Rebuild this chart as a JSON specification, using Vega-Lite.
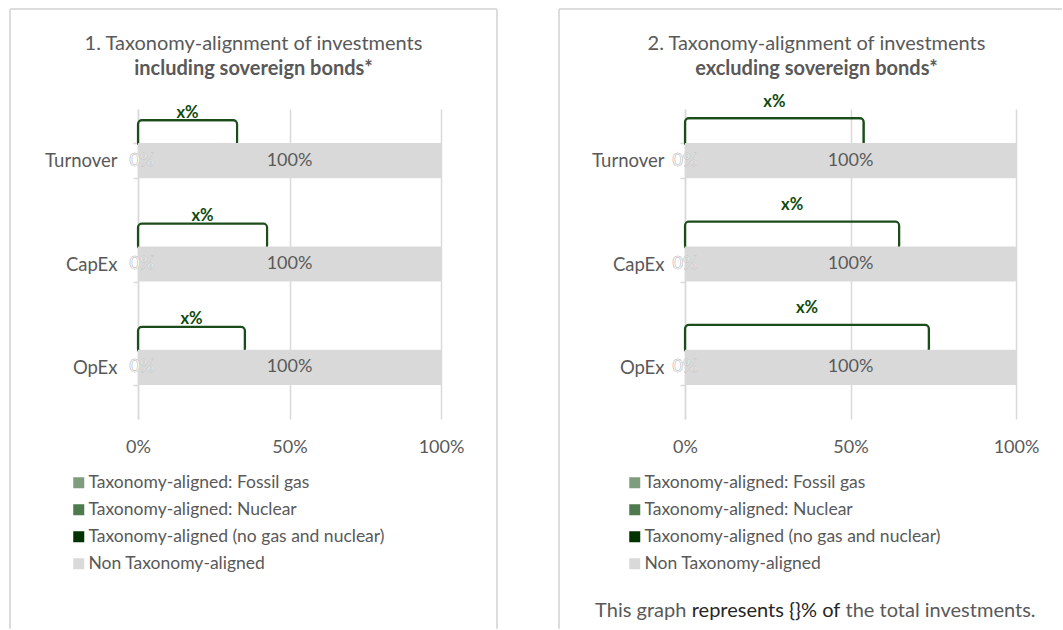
{
  "$schema": "https://vega.github.io/schema/vega-lite/v6.json",
  "padding": {"left": 9, "top": 7, "right": 0, "bottom": 0},
  "spacing": 59,
  "resolve": {"scale": {"color": "independent"}, "legend": {"color": "independent"}},
  "datasets": {
    "bars": [
      {"panel": "incl", "cat": "Turnover", "series": "Taxonomy-aligned: Fossil gas", "value": 0},
      {"panel": "incl", "cat": "Turnover", "series": "Taxonomy-aligned: Nuclear", "value": 0},
      {"panel": "incl", "cat": "Turnover", "series": "Taxonomy-aligned (no gas and nuclear)", "value": 0},
      {"panel": "incl", "cat": "Turnover", "series": "Non Taxonomy-aligned", "value": 1},
      {"panel": "incl", "cat": "CapEx", "series": "Taxonomy-aligned: Fossil gas", "value": 0},
      {"panel": "incl", "cat": "CapEx", "series": "Taxonomy-aligned: Nuclear", "value": 0},
      {"panel": "incl", "cat": "CapEx", "series": "Taxonomy-aligned (no gas and nuclear)", "value": 0},
      {"panel": "incl", "cat": "CapEx", "series": "Non Taxonomy-aligned", "value": 1},
      {"panel": "incl", "cat": "OpEx", "series": "Taxonomy-aligned: Fossil gas", "value": 0},
      {"panel": "incl", "cat": "OpEx", "series": "Taxonomy-aligned: Nuclear", "value": 0},
      {"panel": "incl", "cat": "OpEx", "series": "Taxonomy-aligned (no gas and nuclear)", "value": 0},
      {"panel": "incl", "cat": "OpEx", "series": "Non Taxonomy-aligned", "value": 1},
      {"panel": "excl", "cat": "Turnover", "series": "Taxonomy-aligned: Fossil gas", "value": 0},
      {"panel": "excl", "cat": "Turnover", "series": "Taxonomy-aligned: Nuclear", "value": 0},
      {"panel": "excl", "cat": "Turnover", "series": "Taxonomy-aligned (no gas and nuclear)", "value": 0},
      {"panel": "excl", "cat": "Turnover", "series": "Non Taxonomy-aligned", "value": 1},
      {"panel": "excl", "cat": "CapEx", "series": "Taxonomy-aligned: Fossil gas", "value": 0},
      {"panel": "excl", "cat": "CapEx", "series": "Taxonomy-aligned: Nuclear", "value": 0},
      {"panel": "excl", "cat": "CapEx", "series": "Taxonomy-aligned (no gas and nuclear)", "value": 0},
      {"panel": "excl", "cat": "CapEx", "series": "Non Taxonomy-aligned", "value": 1},
      {"panel": "excl", "cat": "OpEx", "series": "Taxonomy-aligned: Fossil gas", "value": 0},
      {"panel": "excl", "cat": "OpEx", "series": "Taxonomy-aligned: Nuclear", "value": 0},
      {"panel": "excl", "cat": "OpEx", "series": "Taxonomy-aligned (no gas and nuclear)", "value": 0},
      {"panel": "excl", "cat": "OpEx", "series": "Non Taxonomy-aligned", "value": 1}
    ],
    "brackets": [
      {"panel": "incl", "cat": "Turnover", "x": 0.327, "label": "x%"},
      {"panel": "incl", "cat": "CapEx", "x": 0.426, "label": "x%"},
      {"panel": "incl", "cat": "OpEx", "x": 0.353, "label": "x%"},
      {"panel": "excl", "cat": "Turnover", "x": 0.54, "label": "x%"},
      {"panel": "excl", "cat": "CapEx", "x": 0.647, "label": "x%"},
      {"panel": "excl", "cat": "OpEx", "x": 0.737, "label": "x%"}
    ]
  },
  "hconcat": [
    {
      "width": 303,
      "height": 310,
      "title": {"text": "1. Taxonomy-alignment of investments", "subtitle": "including sovereign bonds*", "offset": -71},
      "resolve": {"scale": {"y": "independent"}},
      "layer": [
        {
          "data": {"values": [{}]},
          "layer": [
            {
              "mark": {"type": "rule", "color": "#dcdcdc", "strokeWidth": 2},
              "encoding": {
                "x": {"datum": -0.4224, "type": "quantitative", "scale": {"domain": [0, 1], "nice": false}, "title": null},
                "y": {"datum": 1.3226, "type": "quantitative", "scale": {"domain": [0, 1], "nice": false, "zero": false}, "axis": null},
                "y2": {"datum": -0.677}
              }
            },
            {
              "mark": {"type": "rule", "color": "#dcdcdc", "strokeWidth": 2},
              "encoding": {
                "x": {"datum": -0.4224, "type": "quantitative", "scale": {"domain": [0, 1], "nice": false}, "title": null},
                "x2": {"datum": 1.1848},
                "y": {"datum": 1.3226, "type": "quantitative", "scale": {"domain": [0, 1], "nice": false, "zero": false}, "axis": null}
              }
            },
            {
              "mark": {"type": "rule", "color": "#dcdcdc", "strokeWidth": 2},
              "encoding": {
                "x": {"datum": 1.1848, "type": "quantitative", "scale": {"domain": [0, 1], "nice": false}, "title": null},
                "y": {"datum": 1.3226, "type": "quantitative", "scale": {"domain": [0, 1], "nice": false, "zero": false}, "axis": null},
                "y2": {"datum": -0.677}
              }
            }
          ]
        },
        {
          "layer": [
            {
              "data": {"name": "brackets"},
              "transform": [{"filter": "datum.panel === 'incl'"}],
              "mark": {"type": "bar", "height": 26, "yOffset": -27.5, "fillOpacity": 0, "stroke": "#1a4d1a", "strokeWidth": 2.2, "cornerRadius": 4},
              "encoding": {
                "y": {"field": "cat", "type": "nominal", "sort": ["Turnover", "CapEx", "OpEx"], "scale": {"paddingInner": 0.66, "paddingOuter": 0.33}, "title": null},
                "x": {"field": "x", "type": "quantitative", "scale": {"domain": [0, 1], "nice": false}, "title": null}
              }
            },
            {
              "data": {"name": "bars"},
              "transform": [
                {"filter": "datum.panel === 'incl'"},
                {"stack": "value", "groupby": ["cat"], "sort": [{"field": "series", "order": "descending"}], "as": ["v0", "v1"]}
              ],
              "mark": {"type": "bar"},
              "encoding": {
                "y": {"field": "cat", "type": "nominal", "sort": ["Turnover", "CapEx", "OpEx"], "scale": {"paddingInner": 0.66, "paddingOuter": 0.33}, "title": null},
                "x": {"field": "v0", "type": "quantitative", "scale": {"domain": [0, 1], "nice": false}, "title": null, "axis": {"values": [0, 0.5, 1], "format": ".0%"}},
                "x2": {"field": "v1"},
                "color": {"field": "series", "type": "nominal",
                  "scale": {"domain": ["Taxonomy-aligned: Fossil gas", "Taxonomy-aligned: Nuclear", "Taxonomy-aligned (no gas and nuclear)", "Non Taxonomy-aligned"], "range": ["#7f9c7f", "#4e7a4e", "#013201", "#d9d9d9"]},
                  "legend": {"title": null, "orient": "none", "legendX": -68, "legendY": 365, "direction": "vertical", "symbolType": "square", "symbolSize": 121, "symbolStrokeWidth": 0, "labelFontSize": 17.5, "labelColor": "#595959", "labelLimit": 0, "rowPadding": 8, "labelOffset": 1, "padding": 0}}
              }
            },
            {
              "data": {"name": "bars"},
              "transform": [
                {"filter": "datum.panel === 'incl'"},
                {"stack": "value", "groupby": ["cat"], "sort": [{"field": "series", "order": "descending"}], "as": ["v0", "v1"]},
                {"calculate": "(datum.v0 + datum.v1) / 2", "as": "mid"},
                {"filter": "datum.value === 0"}
              ],
              "mark": {"type": "text", "fontSize": 18, "fill": "white", "stroke": "#c4c4c4", "strokeWidth": 0.5, "align": "center", "baseline": "middle", "dx": 4},
              "encoding": {
                "y": {"field": "cat", "type": "nominal", "sort": ["Turnover", "CapEx", "OpEx"], "scale": {"paddingInner": 0.66, "paddingOuter": 0.33}, "title": null},
                "x": {"field": "mid", "type": "quantitative", "scale": {"domain": [0, 1], "nice": false}, "title": null},
                "text": {"field": "value", "type": "quantitative", "format": ".0%"}
              }
            },
            {
              "data": {"name": "bars"},
              "transform": [
                {"filter": "datum.panel === 'incl'"},
                {"stack": "value", "groupby": ["cat"], "sort": [{"field": "series", "order": "descending"}], "as": ["v0", "v1"]},
                {"calculate": "(datum.v0 + datum.v1) / 2", "as": "mid"},
                {"filter": "datum.value > 0"}
              ],
              "mark": {"type": "text", "fontSize": 18, "color": "#595959", "align": "center", "baseline": "middle"},
              "encoding": {
                "y": {"field": "cat", "type": "nominal", "sort": ["Turnover", "CapEx", "OpEx"], "scale": {"paddingInner": 0.66, "paddingOuter": 0.33}, "title": null},
                "x": {"field": "mid", "type": "quantitative", "scale": {"domain": [0, 1], "nice": false}, "title": null},
                "text": {"field": "value", "type": "quantitative", "format": ".0%"}
              }
            },
            {
              "data": {"name": "brackets"},
              "transform": [{"filter": "datum.panel === 'incl'"}, {"calculate": "datum.x / 2", "as": "mid"}],
              "mark": {"type": "text", "fontSize": 16.5, "fontWeight": "bold", "color": "#0e4a0e", "align": "center", "baseline": "middle", "dy": -48},
              "encoding": {
                "y": {"field": "cat", "type": "nominal", "sort": ["Turnover", "CapEx", "OpEx"], "scale": {"paddingInner": 0.66, "paddingOuter": 0.33}, "title": null},
                "x": {"field": "mid", "type": "quantitative", "scale": {"domain": [0, 1], "nice": false}, "title": null},
                "text": {"field": "label", "type": "nominal"}
              }
            }
          ]
        }
      ]
    },
    {
      "width": 331,
      "height": 310,
      "title": {"text": "2. Taxonomy-alignment of investments", "subtitle": "excluding sovereign bonds*", "offset": -71, "dx": 6},
      "resolve": {"scale": {"y": "independent"}},
      "layer": [
        {
          "data": {"values": [{"a": "This graph", "b": "represents {}% of", "c": "the total investments."}]},
          "layer": [
            {
              "mark": {"type": "rule", "color": "#dcdcdc", "strokeWidth": 2},
              "encoding": {
                "x": {"datum": -0.3807, "type": "quantitative", "scale": {"domain": [0, 1], "nice": false}, "title": null},
                "y": {"datum": 1.3226, "type": "quantitative", "scale": {"domain": [0, 1], "nice": false, "zero": false}, "axis": null},
                "y2": {"datum": -0.677}
              }
            },
            {
              "mark": {"type": "rule", "color": "#dcdcdc", "strokeWidth": 2},
              "encoding": {
                "x": {"datum": -0.3807, "type": "quantitative", "scale": {"domain": [0, 1], "nice": false}, "title": null},
                "x2": {"datum": 1.139},
                "y": {"datum": 1.3226, "type": "quantitative", "scale": {"domain": [0, 1], "nice": false, "zero": false}, "axis": null}
              }
            },
            {
              "mark": {"type": "text", "fontSize": 20, "color": "#595959", "align": "right", "baseline": "middle"},
              "encoding": {
                "x": {"datum": 0.004, "type": "quantitative", "scale": {"domain": [0, 1], "nice": false}, "title": null},
                "y": {"datum": -0.619, "type": "quantitative", "scale": {"domain": [0, 1], "nice": false, "zero": false}, "axis": null},
                "text": {"field": "a", "type": "nominal"}
              }
            },
            {
              "mark": {"type": "text", "fontSize": 20, "color": "#262626", "align": "center", "baseline": "middle"},
              "encoding": {
                "x": {"datum": 0.2447, "type": "quantitative", "scale": {"domain": [0, 1], "nice": false}, "title": null},
                "y": {"datum": -0.619, "type": "quantitative", "scale": {"domain": [0, 1], "nice": false, "zero": false}, "axis": null},
                "text": {"field": "b", "type": "nominal"}
              }
            },
            {
              "mark": {"type": "text", "fontSize": 20, "color": "#595959", "align": "left", "baseline": "middle"},
              "encoding": {
                "x": {"datum": 0.485, "type": "quantitative", "scale": {"domain": [0, 1], "nice": false}, "title": null},
                "y": {"datum": -0.619, "type": "quantitative", "scale": {"domain": [0, 1], "nice": false, "zero": false}, "axis": null},
                "text": {"field": "c", "type": "nominal"}
              }
            }
          ]
        },
        {
          "layer": [
            {
              "data": {"name": "brackets"},
              "transform": [{"filter": "datum.panel === 'excl'"}],
              "mark": {"type": "bar", "height": 28, "yOffset": -28.5, "fillOpacity": 0, "stroke": "#1a4d1a", "strokeWidth": 2.2, "cornerRadius": 4},
              "encoding": {
                "y": {"field": "cat", "type": "nominal", "sort": ["Turnover", "CapEx", "OpEx"], "scale": {"paddingInner": 0.66, "paddingOuter": 0.33}, "title": null},
                "x": {"field": "x", "type": "quantitative", "scale": {"domain": [0, 1], "nice": false}, "title": null}
              }
            },
            {
              "data": {"name": "bars"},
              "transform": [
                {"filter": "datum.panel === 'excl'"},
                {"stack": "value", "groupby": ["cat"], "sort": [{"field": "series", "order": "descending"}], "as": ["v0", "v1"]}
              ],
              "mark": {"type": "bar"},
              "encoding": {
                "y": {"field": "cat", "type": "nominal", "sort": ["Turnover", "CapEx", "OpEx"], "scale": {"paddingInner": 0.66, "paddingOuter": 0.33}, "title": null},
                "x": {"field": "v0", "type": "quantitative", "scale": {"domain": [0, 1], "nice": false}, "title": null, "axis": {"values": [0, 0.5, 1], "format": ".0%"}},
                "x2": {"field": "v1"},
                "color": {"field": "series", "type": "nominal",
                  "scale": {"domain": ["Taxonomy-aligned: Fossil gas", "Taxonomy-aligned: Nuclear", "Taxonomy-aligned (no gas and nuclear)", "Non Taxonomy-aligned"], "range": ["#7f9c7f", "#4e7a4e", "#013201", "#d9d9d9"]},
                  "legend": {"title": null, "orient": "none", "legendX": -59, "legendY": 365, "direction": "vertical", "symbolType": "square", "symbolSize": 121, "symbolStrokeWidth": 0, "labelFontSize": 17.5, "labelColor": "#595959", "labelLimit": 0, "rowPadding": 8, "labelOffset": 1, "padding": 0}}
              }
            },
            {
              "data": {"name": "bars"},
              "transform": [
                {"filter": "datum.panel === 'excl'"},
                {"stack": "value", "groupby": ["cat"], "sort": [{"field": "series", "order": "descending"}], "as": ["v0", "v1"]},
                {"calculate": "(datum.v0 + datum.v1) / 2", "as": "mid"},
                {"filter": "datum.value === 0"}
              ],
              "mark": {"type": "text", "fontSize": 18, "fill": "white", "stroke": "#c4c4c4", "strokeWidth": 0.5, "align": "center", "baseline": "middle"},
              "encoding": {
                "y": {"field": "cat", "type": "nominal", "sort": ["Turnover", "CapEx", "OpEx"], "scale": {"paddingInner": 0.66, "paddingOuter": 0.33}, "title": null},
                "x": {"field": "mid", "type": "quantitative", "scale": {"domain": [0, 1], "nice": false}, "title": null},
                "text": {"field": "value", "type": "quantitative", "format": ".0%"}
              }
            },
            {
              "data": {"name": "bars"},
              "transform": [
                {"filter": "datum.panel === 'excl'"},
                {"stack": "value", "groupby": ["cat"], "sort": [{"field": "series", "order": "descending"}], "as": ["v0", "v1"]},
                {"calculate": "(datum.v0 + datum.v1) / 2", "as": "mid"},
                {"filter": "datum.value > 0"}
              ],
              "mark": {"type": "text", "fontSize": 18, "color": "#595959", "align": "center", "baseline": "middle"},
              "encoding": {
                "y": {"field": "cat", "type": "nominal", "sort": ["Turnover", "CapEx", "OpEx"], "scale": {"paddingInner": 0.66, "paddingOuter": 0.33}, "title": null},
                "x": {"field": "mid", "type": "quantitative", "scale": {"domain": [0, 1], "nice": false}, "title": null},
                "text": {"field": "value", "type": "quantitative", "format": ".0%"}
              }
            },
            {
              "data": {"name": "brackets"},
              "transform": [{"filter": "datum.panel === 'excl'"}, {"calculate": "datum.x / 2", "as": "mid"}],
              "mark": {"type": "text", "fontSize": 16.5, "fontWeight": "bold", "color": "#0e4a0e", "align": "center", "baseline": "middle", "dy": -59},
              "encoding": {
                "y": {"field": "cat", "type": "nominal", "sort": ["Turnover", "CapEx", "OpEx"], "scale": {"paddingInner": 0.66, "paddingOuter": 0.33}, "title": null},
                "x": {"field": "mid", "type": "quantitative", "scale": {"domain": [0, 1], "nice": false}, "title": null},
                "text": {"field": "label", "type": "nominal"}
              }
            }
          ]
        }
      ]
    }
  ],
  "config": {
    "font": "Lato",
    "view": {"stroke": null},
    "axisX": {"domain": false, "ticks": false, "grid": true, "gridColor": "#d9d9d9", "gridWidth": 1.5, "labelFontSize": 18, "labelColor": "#595959", "labelPadding": 19, "labelFlush": false},
    "axisY": {"domain": true, "domainColor": "#d9d9d9", "domainWidth": 1.5, "ticks": true, "tickColor": "#d9d9d9", "tickSize": 5, "tickWidth": 1.5, "tickBand": "extent", "labelFontSize": 18.5, "labelColor": "#595959", "labelPadding": 16, "grid": false},
    "title": {"font": "Lato", "fontSize": 20, "fontWeight": "normal", "color": "#595959", "subtitleFont": "Lato", "subtitleFontSize": 20, "subtitleFontWeight": "bold", "subtitleColor": "#595959", "subtitlePadding": 5, "anchor": "middle", "frame": "bounds"}
  }
}
